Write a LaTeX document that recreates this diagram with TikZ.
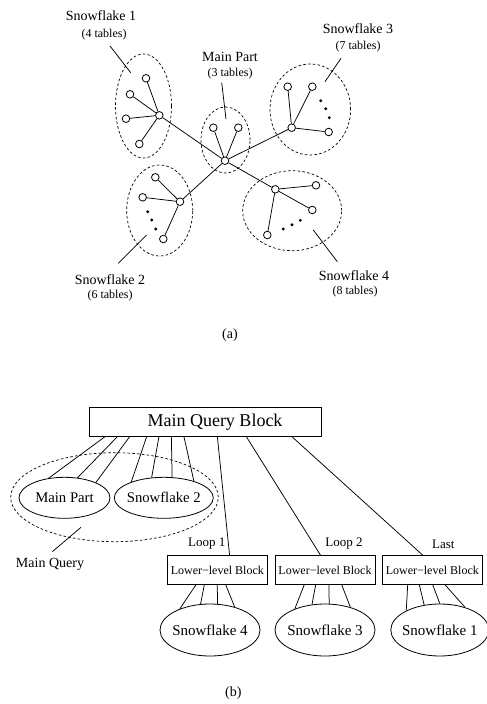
\documentclass[tikz,border=0pt]{standalone}
\usepackage{fontspec}
\setmainfont{Liberation Serif}
\usetikzlibrary{shapes.geometric,calc}
\tikzset{
  tab/.style={circle,draw,fill=white,inner sep=0pt,minimum size=7.6pt,line width=0.8pt},
  dotnode/.style={circle,fill=black,inner sep=0pt,minimum size=3.2pt},
  group/.style={ellipse,draw,dash pattern=on 2.6pt off 2.2pt,line width=0.7pt,inner sep=0pt},
  lnk/.style={line width=0.75pt},
  bigl/.style={font=\fontsize{14}{16}\selectfont,inner sep=0pt},
  smalll/.style={font=\fontsize{12}{14}\selectfont,inner sep=0pt},
  blk/.style={rectangle,draw,line width=0.8pt,inner sep=0pt},
  sfell/.style={ellipse,draw,line width=0.8pt,inner sep=0pt},
}
\begin{document}
\begin{tikzpicture}[x=1pt,y=-1pt]
\useasboundingbox (0,0) rectangle (487,704);
% ---------- (a) ----------
\node[group,minimum width=56pt,minimum height=104pt] (E1) at (143.5,106) {};
\node[group,minimum width=49pt,minimum height=66pt] (E0) at (225.5,140) {};
\node[group,minimum width=80.6pt,minimum height=91pt] (E3) at (310.3,109.5) {};
\node[group,minimum width=66pt,minimum height=91pt] (E2) at (159.7,210.5) {};
\node[group,minimum width=99pt,minimum height=80pt] (E4) at (292.2,210.7) {};

\node[tab] (c0) at (225,160.7) {};
\node[tab] (m1) at (213.3,127.7) {};
\node[tab] (m2) at (238.3,127.7) {};
\node[tab] (h1) at (159.3,115.3) {};
\node[tab] (a1) at (146,78.3) {};
\node[tab] (a2) at (130,94.3) {};
\node[tab] (a3) at (126,118.7) {};
\node[tab] (a4) at (139.3,144) {};
\node[tab] (h3) at (291.7,127.7) {};
\node[tab] (b1) at (287.7,86.7) {};
\node[tab] (b2) at (312.3,86.7) {};
\node[tab] (b3) at (328.7,132) {};
\node[tab] (h2) at (180,201.7) {};
\node[tab] (c1) at (155.3,177.3) {};
\node[tab] (c2) at (142.7,197.3) {};
\node[tab] (c3) at (163.3,239) {};
\node[tab] (h4) at (275.3,189.3) {};
\node[tab] (d1) at (316,185.3) {};
\node[tab] (d2) at (312.3,210) {};
\node[tab] (d3) at (267.3,235) {};

\node[dotnode] (b4) at (320.7,100.7) {};
\node[dotnode] (b5) at (325.7,108.7) {};
\node[dotnode] (b6) at (329.3,117.7) {};
\node[dotnode] (c4) at (147.7,211.7) {};
\node[dotnode] (c5) at (151.7,220) {};
\node[dotnode] (c6) at (155.7,229) {};
\node[dotnode] (d4) at (283.3,229) {};
\node[dotnode] (d5) at (292,224.7) {};
\node[dotnode] (d6) at (300.3,220.3) {};

\foreach \a/\b in {c0/m1,c0/m2,c0/h1,c0/h3,c0/h2,c0/h4,
  h1/a1,h1/a2,h1/a3,h1/a4,h3/b1,h3/b2,h3/b3,h2/c1,h2/c2,h2/c3,h4/d1,h4/d2,h4/d3}
  \draw[lnk] (\a) -- (\b);

\node[bigl] (l1) at (101,16) {Snowflake 1};
\node[smalll] (s1) at (104,35) {(4 tables)};
\node[bigl] (l0) at (230,57) {Main Part};
\node[smalll] (s0) at (230,74) {(3 tables)};
\node[bigl] (l3) at (358,29) {Snowflake 3};
\node[smalll] (s3) at (358,47) {(7 tables)};
\node[bigl] (l2) at (110,280) {Snowflake 2};
\node[smalll] (s2) at (110,296) {(6 tables)};
\node[bigl] (l4) at (354,276) {Snowflake 4};
\node[smalll] (s4) at (355,292) {(8 tables)};

\coordinate (p1a) at (110,46);   \coordinate (p1b) at (130.7,72.7);
\coordinate (p0a) at (221.7,82.7); \coordinate (p0b) at (226,119);
\coordinate (p3a) at (341,58.3); \coordinate (p3b) at (325,81.7);
\coordinate (p2a) at (118.3,263.3); \coordinate (p2b) at (146.7,235);
\coordinate (p4a) at (313.3,230); \coordinate (p4b) at (337.3,261.7);
\foreach \p in {p1,p0,p3,p2,p4} \draw[lnk] (\p a) -- (\p b);

\node[bigl] (capa) at (230,335) {(a)};

% ---------- (b) ----------
\node[group,minimum width=207.6pt,minimum height=89pt] (MQ) at (114.5,497.2) {};
\node[blk,minimum width=231.7pt,minimum height=28.6pt] (mqb) at (205.2,422) {};
\node[font=\fontsize{18}{20}\selectfont,inner sep=0pt] (mqbt) at (215,422.5) {Main Query Block};

\node[sfell,minimum width=91pt,minimum height=41pt,
  label={[font=\fontsize{14.7}{16}\selectfont]center:Main Part}] (mp) at (64.5,497.8) {};
\node[sfell,minimum width=99pt,minimum height=41pt,
  label={[font=\fontsize{14.7}{16}\selectfont]center:Snowflake 2}] (sf2) at (163.8,497.8) {};

\foreach \dx/\ang in {16/129,28.4/57.5,40.7/26}
  \draw[lnk] ([xshift=\dx pt]mqb.south west) -- (mp.\ang);
\foreach \dx/\ang in {57.7/154,70/121,82.4/68.5,95/29.5}
  \draw[lnk] ([xshift=\dx pt]mqb.south west) -- (sf2.\ang);

\node[blk,minimum width=100pt,minimum height=28.6pt,
  font=\fontsize{12}{14}\selectfont] (lb1) at (217.3,570) {Lower−level Block};
\node[blk,minimum width=100pt,minimum height=28.6pt,
  font=\fontsize{12}{14}\selectfont] (lb2) at (325,570) {Lower−level Block};
\node[blk,minimum width=100pt,minimum height=28.6pt,
  font=\fontsize{12}{14}\selectfont] (lb3) at (432.3,570) {Lower−level Block};

\draw[lnk] ([xshift=128.4pt]mqb.south west) -- ([xshift=62.7pt]lb1.north west);
\draw[lnk] ([xshift=157.4pt]mqb.south west) -- ([xshift=46pt]lb2.north west);
\draw[lnk] ([xshift=203pt]mqb.south west) -- ([xshift=41pt]lb3.north west);

\node[font=\fontsize{13}{15}\selectfont,inner sep=0pt] (lp1) at (206.7,544) {Loop 1};
\node[font=\fontsize{13}{15}\selectfont,inner sep=0pt] (lp2) at (344,544) {Loop 2};
\node[font=\fontsize{13}{15}\selectfont,inner sep=0pt] (lp3) at (443.3,544) {Last};

\node[sfell,minimum width=100pt,minimum height=52pt,
  label={[font=\fontsize{15}{17}\selectfont]center:Snowflake 4}] (sf4) at (210,630) {};
\node[sfell,minimum width=100pt,minimum height=52pt,
  label={[font=\fontsize{15}{17}\selectfont]center:Snowflake 3}] (sf3) at (325,630) {};
\node[sfell,minimum width=98pt,minimum height=52pt,
  label={[font=\fontsize{15}{17}\selectfont]center:Snowflake 1}] (sf1) at (439.8,630) {};

\foreach \dx/\ang in {-21.3/145,-13/110,0/74,8.4/43}
  \draw[lnk] ([xshift=\dx pt]lb1.south) -- (sf4.\ang);
\foreach \dx/\ang in {-20.7/145,-9.3/117,4/81,16.7/42}
  \draw[lnk] ([xshift=\dx pt]lb2.south) -- (sf3.\ang);
\foreach \dx/\ang in {-24.6/150,-13/122,0.4/90,12.7/42}
  \draw[lnk] ([xshift=\dx pt]lb3.south) -- (sf1.\ang);

\node[font=\fontsize{14}{16}\selectfont,inner sep=0pt] (mql) at (50,564) {Main Query};
\coordinate (pqa) at (52.3,551.7); \coordinate (pqb) at (81,527.3);
\draw[lnk] (pqa) -- (pqb);

\node[bigl] (capb) at (233.3,693.3) {(b)};
\end{tikzpicture}
\end{document}
